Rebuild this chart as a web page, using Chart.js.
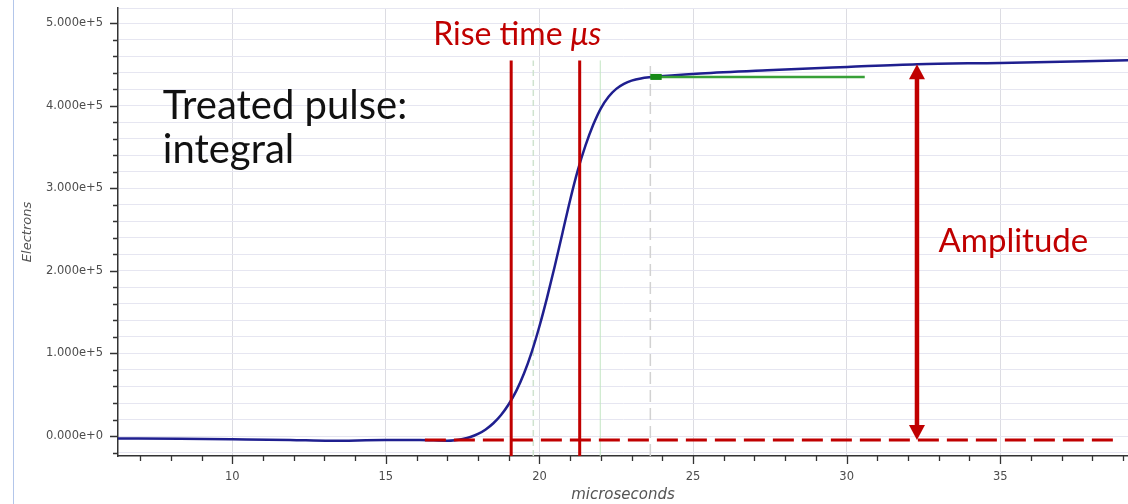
<!DOCTYPE html>
<html>
<head>
<meta charset="utf-8">
<title>Treated pulse: integral</title>
<script src="https://cdn.jsdelivr.net/npm/chart.js@4.4.1/dist/chart.umd.min.js"></script>
<style>
  html, body { margin: 0; padding: 0; background: #fff; }
  #wrap { position: relative; width: 1128px; height: 504px; overflow: hidden; }
  #wrap .edge { position: absolute; left: 13px; top: 0; width: 1px; height: 100%; background: #b3c6ea; }
</style>
</head>
<body>
<div id="wrap">
  <canvas id="pulseChart"></canvas>
  <div class="edge"></div>
</div>
<script>
// Integrated pulse: collected electrons vs time (microseconds)
const timeUs = [
  6.28, 8.30, 10.0, 11.88, 13.18, 14.97, 16.11, 17.0, 17.25, 17.5,
  17.75, 18.0, 18.25, 18.5, 18.75, 19.0, 19.25, 19.5, 19.75, 20.0,
  20.25, 20.5, 20.75, 21.0, 21.25, 21.5, 21.75, 22.0, 22.25, 22.5,
  22.75, 23.0, 23.3, 23.61, 25.24, 27.42, 30.02, 32.30, 35.0, 39.17
];
const electrons = [
  -3000, -3400, -4000, -4800, -5800, -4800, -4800, -5600, -5000, -3500,
  -1200, 2500, 8000, 15500, 25500, 38500, 55000, 76000, 102000, 133000,
  168000, 206000, 246000, 286000, 322000, 352000, 377000, 397000, 411000, 420500,
  426500, 430500, 433200, 434600, 439100, 443100, 447100, 450400, 452000, 455200
];

// fitted levels and markers
const baselineLevel = -4800;
const baselineSpan = [16.27, 38.9];
const plateauLevel = 435000;
const plateauSpan = [23.61, 30.59];
const plateauStart = [23.61, 23.98];
const riseMarks = [19.08, 21.31];
const guideMarks = [19.8, 21.98, 23.61];
const markTop = 455000;
const amplitudeX = 32.29;
const amplitudeTop = 450400;

// axis ranges
const xRange = [6.28, 39.16];
const yRange = [-24200, 518500];
const xStep = 1;
const yStep = 20000;
const xMajor = 5;
const yMajor = 100000;

const red = '#c00000';
const axisFont = { family: "'DejaVu Sans', sans-serif", size: 11.5 };
const noteFamily = "Lato, 'Noto Sans', sans-serif";

const notes = [
  { parts: [['Rise time ', ''], ['\u03bcs', 'italic ']], size: 32, color: red, x: 16.54, y: 473400 },
  { parts: [['Treated pulse:', '']], size: 40, color: '#111', x: 7.74, y: 384600 },
  { parts: [['integral', '']], size: 40, color: '#111', x: 7.74, y: 330300 },
  { parts: [['Amplitude', '']], size: 33, color: red, x: 32.99, y: 222800 }
];

const onStep = (v, step) => Math.abs(v / step - Math.round(v / step)) < 1e-6;

function segment(x0, y0, x1, y1) {
  return [{ x: x0, y: y0 }, { x: x1, y: y1 }];
}

// ticks on every step inside the range, plus the top edge for the border gridline
function stepTicks(step, withMax) {
  return s => {
    const ticks = [];
    for (let v = Math.ceil(s.min / step) * step; v <= s.max + 1e-9; v += step) {
      ticks.push({ value: Math.round(v / step) * step });
    }
    if (withMax) ticks.push({ value: s.max });
    s.ticks = ticks;
  };
}

// tick marks: long at labelled values, short in between
const tickMarks = {
  id: 'tickMarks',
  afterDraw(chart) {
    const { ctx, scales: { x, y } } = chart;
    ctx.save();
    ctx.strokeStyle = '#333';
    ctx.lineWidth = 1.3;
    ctx.beginPath();
    y.ticks.forEach(t => {
      if (!onStep(t.value, yStep)) return;
      const py = Math.round(y.getPixelForValue(t.value)) + 0.5;
      const len = onStep(t.value, yMajor) ? 8 : 5;
      ctx.moveTo(y.right - len, py);
      ctx.lineTo(y.right, py);
    });
    x.ticks.forEach(t => {
      if (!onStep(t.value, xStep)) return;
      const px = Math.round(x.getPixelForValue(t.value)) + 0.5;
      const len = onStep(t.value, xMajor) ? 8 : 5;
      ctx.moveTo(px, x.top);
      ctx.lineTo(px, x.top + len);
    });
    ctx.stroke();
    ctx.restore();
  }
};

// amplitude arrow and text notes
const pulseNotes = {
  id: 'pulseNotes',
  afterDatasetsDraw(chart) {
    const { ctx, scales: { x, y } } = chart;
    ctx.save();
    const ax = x.getPixelForValue(amplitudeX);
    const top = y.getPixelForValue(amplitudeTop);
    const bottom = y.getPixelForValue(baselineLevel);
    const head = 15, half = 8;
    ctx.strokeStyle = red;
    ctx.fillStyle = red;
    ctx.lineWidth = 4.5;
    ctx.beginPath();
    ctx.moveTo(ax, top + head - 2);
    ctx.lineTo(ax, bottom - head + 2);
    ctx.stroke();
    ctx.beginPath();
    ctx.moveTo(ax, top);
    ctx.lineTo(ax - half, top + head);
    ctx.lineTo(ax + half, top + head);
    ctx.closePath();
    ctx.fill();
    ctx.beginPath();
    ctx.moveTo(ax, bottom);
    ctx.lineTo(ax - half, bottom - head);
    ctx.lineTo(ax + half, bottom - head);
    ctx.closePath();
    ctx.fill();

    ctx.textAlign = 'left';
    ctx.textBaseline = 'alphabetic';
    notes.forEach(n => {
      let px = x.getPixelForValue(n.x);
      const py = y.getPixelForValue(n.y);
      ctx.fillStyle = n.color;
      n.parts.forEach(([text, style]) => {
        ctx.font = style + n.size + 'px ' + noteFamily;
        ctx.fillText(text, px, py);
        px += ctx.measureText(text).width;
      });
    });
    ctx.restore();
  }
};

const line = (data, color, width, order, extra) => Object.assign({
  data, borderColor: color, borderWidth: width, order,
  pointRadius: 0, showLine: true, fill: false
}, extra || {});

const datasets = [
  line(segment(guideMarks[0], yRange[0], guideMarks[0], markTop), '#cfe3cf', 1.5, 6, { borderDash: [6, 4] }),
  line(segment(guideMarks[1], yRange[0], guideMarks[1], markTop), '#c4e6c4', 1, 6),
  line(segment(guideMarks[2], yRange[0], guideMarks[2], markTop), '#d2d2d2', 1.5, 6, { borderDash: [12, 6] }),
  line(timeUs.map((t, i) => ({ x: t, y: electrons[i] })), '#1f1f8f', 2.5, 5, { cubicInterpolationMode: 'monotone' }),
  line(segment(plateauSpan[0], plateauLevel, plateauSpan[1], plateauLevel), '#38a038', 2.5, 4),
  line(segment(plateauStart[0], plateauLevel, plateauStart[1], plateauLevel), '#168a16', 6, 3),
  line(segment(baselineSpan[0], baselineLevel, baselineSpan[1], baselineLevel), red, 3, 2, { borderDash: [21, 8] }),
  line(segment(riseMarks[0], yRange[0], riseMarks[0], markTop), red, 3, 1),
  line(segment(riseMarks[1], yRange[0], riseMarks[1], markTop), red, 3, 1)
];

new Chart(document.getElementById('pulseChart'), {
  type: 'scatter',
  data: { datasets },
  options: {
    responsive: true,
    maintainAspectRatio: false,
    animation: false,
    layout: { padding: { top: 8, left: 0, right: 0, bottom: 0 } },
    plugins: { legend: { display: false }, tooltip: { enabled: false } },
    scales: {
      x: {
        type: 'linear',
        min: xRange[0],
        max: xRange[1],
        afterBuildTicks: stepTicks(xStep, false),
        afterFit: s => { s.height = 48; s.paddingLeft = 0; s.paddingRight = 0; },
        border: { color: '#333', width: 1.5 },
        grid: {
          drawTicks: false,
          color: c => onStep(c.tick.value, xMajor) ? '#dcdce2' : 'rgba(0,0,0,0)'
        },
        ticks: {
          autoSkip: false,
          maxRotation: 0,
          padding: 14,
          color: '#4d4d4d',
          font: axisFont,
          callback: v => onStep(v, xMajor) ? String(Math.round(v)) : ''
        },
        title: {
          display: true,
          text: 'microseconds',
          color: '#555',
          font: { family: "'DejaVu Sans', sans-serif", size: 15, style: 'italic' },
          padding: { top: 0, bottom: 0 }
        }
      },
      y: {
        type: 'linear',
        min: yRange[0],
        max: yRange[1],
        afterBuildTicks: stepTicks(yStep, true),
        afterFit: s => { s.width = 118; s.paddingTop = 0; s.paddingBottom = 0; },
        border: { color: '#333', width: 1.5 },
        grid: { drawTicks: false, color: '#e6e6f1' },
        ticks: {
          autoSkip: false,
          padding: 15,
          color: '#4d4d4d',
          font: axisFont,
          callback: v => onStep(v, yMajor) ? v.toExponential(3) : ''
        },
        title: {
          display: true,
          text: 'Electrons',
          color: '#555',
          font: { family: "'DejaVu Sans', sans-serif", size: 13, style: 'italic' },
          padding: { top: 20, bottom: 0 }
        }
      }
    }
  },
  plugins: [tickMarks, pulseNotes]
});
</script>
</body>
</html>
